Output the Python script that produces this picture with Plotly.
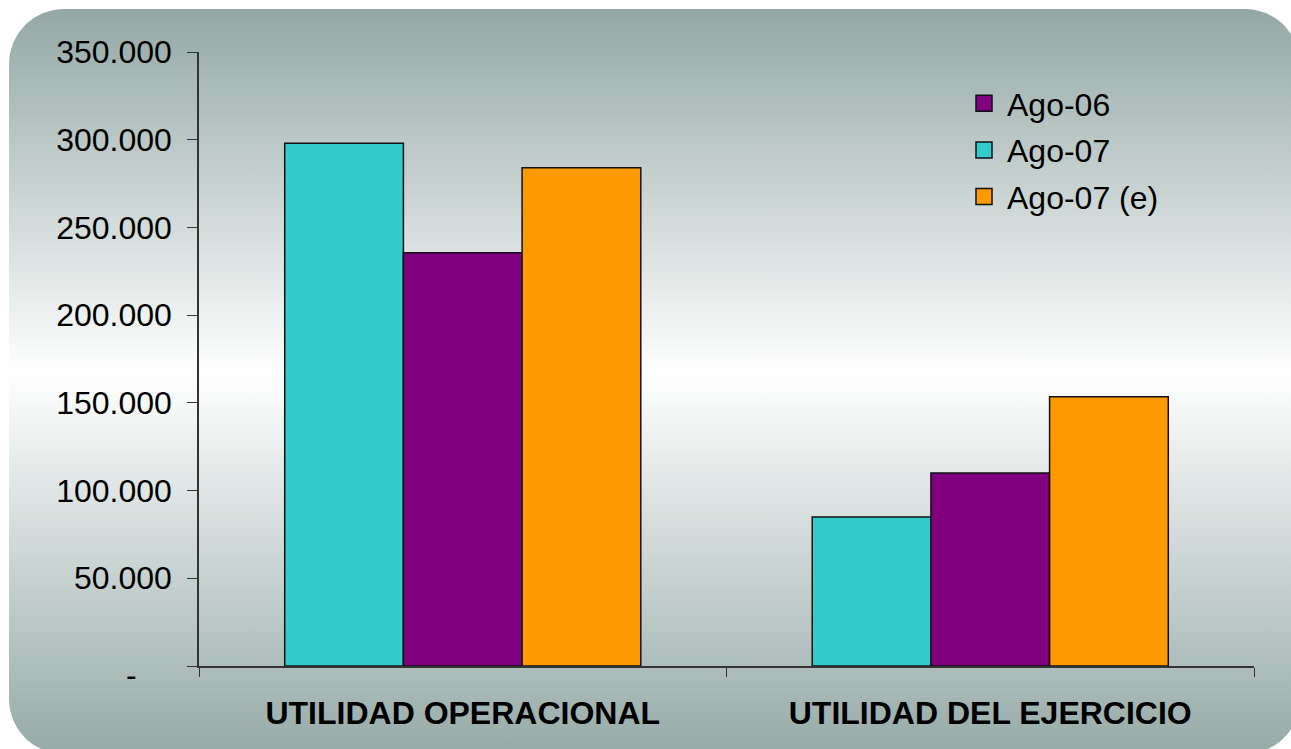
import numpy as np
import plotly.graph_objects as go

# ---------------- data ----------------
categories = ["UTILIDAD OPERACIONAL", "UTILIDAD DEL EJERCICIO"]
ago_07 = [298000, 85000]
ago_06 = [235500, 110000]
ago_07_e = [284000, 153500]
tick_values = [0, 50000, 100000, 150000, 200000, 250000, 300000, 350000]
tick_labels = ["", "50.000", "100.000", "150.000", "200.000", "250.000", "300.000", "350.000"]
zero_label = "-"

# ---------------- style ----------------
W, H = 1291, 749
FONT = "Liberation Sans, Arial, sans-serif"
FS = 32
C_CYAN = "#33CCCC"
C_PURPLE = "#800080"
C_ORANGE = "#FF9900"
BG_EDGE = "#93a8a5"


def rounded_rect(x0, y0, x1, y1, r, n=24):
    xs, ys = [], []
    corners = [
        (x1 - r, y0 + r, -90, 0),
        (x1 - r, y1 - r, 0, 90),
        (x0 + r, y1 - r, 90, 180),
        (x0 + r, y0 + r, 180, 270),
    ]
    for cx, cy, a0, a1 in corners:
        t = np.radians(np.linspace(a0, a1, n))
        xs.extend(cx + r * np.cos(t))
        ys.extend(cy + r * np.sin(t))
    xs.append(xs[0])
    ys.append(ys[0])
    return xs, ys


bx, by = rounded_rect(9, 9, 1300, 754, 55)

fig = go.Figure()

# background panel (pixel coordinate axes x/y)
fig.add_trace(go.Scatter(
    x=bx, y=by, xaxis="x", yaxis="y", mode="lines", fill="toself",
    line=dict(width=0, color="rgba(0,0,0,0)"),
    fillgradient=dict(type="vertical",
                      colorscale=[[0, BG_EDGE], [0.49, "#ffffff"], [1, "#95aaa7"]],
                      start=9, stop=754),
    hoverinfo="skip", showlegend=False,
))

series = [
    ("Ago-07", ago_07, C_CYAN, 2),
    ("Ago-06", ago_06, C_PURPLE, 1),
    ("Ago-07 (e)", ago_07_e, C_ORANGE, 3),
]
for name, vals, col, rank in series:
    fig.add_trace(go.Bar(
        x=categories, y=vals, name=name, xaxis="x2", yaxis="y2",
        marker=dict(color=col, line=dict(color="#111111", width=1.5)),
        legendgroup=name, showlegend=False,
    ))
# legend entries (larger square swatches)
for name, vals, col, rank in series:
    fig.add_trace(go.Scatter(
        x=[None], y=[None], name=name, xaxis="x2", yaxis="y2", mode="markers",
        marker=dict(symbol="square", size=16, color=col, line=dict(color="#111111", width=1.5)),
        legendrank=rank, legendgroup=name, showlegend=True, hoverinfo="skip",
    ))

fig.add_annotation(text=zero_label, xref="paper", x=124 / W, yref="y2", y=0,
                   yshift=-9, showarrow=False, font=dict(family=FONT, size=FS, color="#000000"))

fig.update_layout(
    width=W, height=H,
    margin=dict(l=0, r=0, t=0, b=0, pad=0, autoexpand=False),
    paper_bgcolor="#ffffff",
    plot_bgcolor="rgba(0,0,0,0)",
    font=dict(family=FONT, size=FS, color="#000000"),
    barmode="group", bargap=0.325, bargroupgap=0,
    showlegend=True,
    legend=dict(x=961 / W, y=1 - 76 / H, xanchor="left", yanchor="top",
                bgcolor="rgba(0,0,0,0)", font=dict(family=FONT, size=FS, color="#000000"),
                tracegroupgap=2, traceorder="grouped", itemwidth=36, itemsizing="trace"),
    xaxis=dict(domain=[0, 1], range=[0, W], visible=False, fixedrange=True, automargin=False),
    yaxis=dict(domain=[0, 1], range=[H, 0], visible=False, fixedrange=True, automargin=False),
    xaxis2=dict(domain=[199 / W, 1254 / W], anchor="y2", type="category",
                range=[-0.5, 1.5], tickson="boundaries", ticks="outside", ticklen=9,
                tickcolor="#333333", tickwidth=1.2, showline=True, linecolor="#333333",
                linewidth=1.5, showgrid=False, automargin=False,
                tickfont=dict(family=FONT, size=FS, color="#000000", weight="bold"),
                ticklabelstandoff=18),
    yaxis2=dict(domain=[1 - 666 / H, 1 - 52 / H], anchor="x2", range=[0, 350000],
                tickmode="array", tickvals=tick_values, ticktext=tick_labels,
                ticks="outside", ticklen=10, tickcolor="#333333", tickwidth=1.2,
                showline=True, linecolor="#333333", linewidth=1.5,
                showgrid=False, zeroline=False, automargin=False,
                tickfont=dict(family=FONT, size=FS, color="#000000"),
                ticklabelstandoff=9),
)

fig.write_html(
    "out.html",
    config={"displayModeBar": False},
    post_script="document.body.style.margin='0';document.body.style.overflow='hidden';",
)
